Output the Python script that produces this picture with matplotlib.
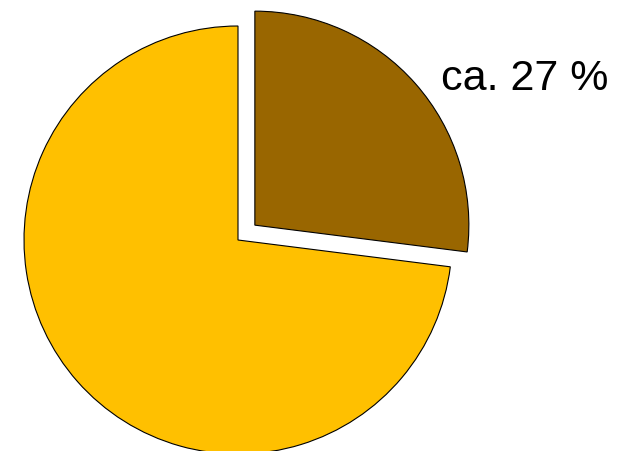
import matplotlib
matplotlib.use("Agg")
import matplotlib.pyplot as plt

# Anteile (Uhrzeigersinn ab 12 Uhr)
labels = ["ca. 27 %", ""]
values = [27, 73]
colors = ["#996600", "#FFC000"]
explode = [0.105, 0]

plt.rcParams["font.family"] = ["Liberation Sans", "DejaVu Sans"]

fig = plt.figure(figsize=(6.23, 4.52), dpi=100)
ax = fig.add_axes([0, 0, 1, 1])

r_px = 214.0
cx, cy = 238.0, 241.0
ax.pie(values, colors=colors, explode=explode, startangle=90, counterclock=False,
       wedgeprops=dict(edgecolor="black", linewidth=0.8))

ax.set_xlim(-cx / r_px, (623 - cx) / r_px)
ax.set_ylim(-(452 - cy) / r_px, cy / r_px)
ax.set_aspect("auto")
ax.axis("off")

ax.text((441 - cx) / r_px, (cy - 79) / r_px, labels[0], fontsize=31,
        ha="left", va="center")

fig.savefig("out.png", dpi=100)
